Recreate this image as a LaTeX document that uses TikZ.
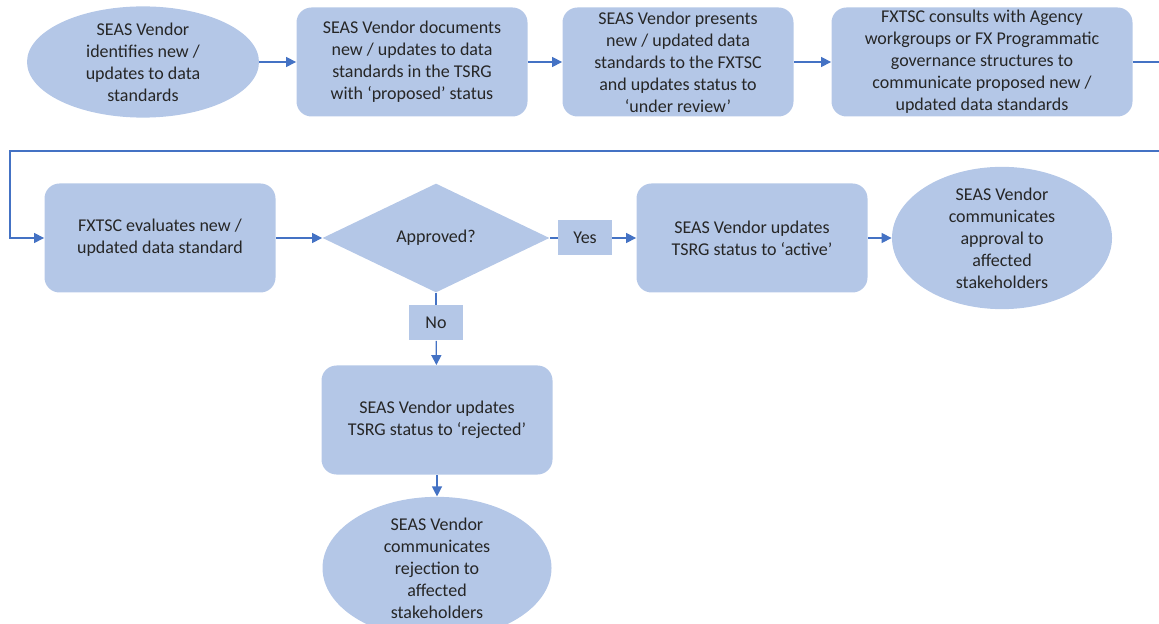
\documentclass[tikz,border=0pt]{standalone}
\usepackage{fontspec}
\setmainfont{Carlito}
\usepackage{xcolor}
\usetikzlibrary{positioning,arrows.meta,shapes.geometric}
\definecolor{stepfill}{HTML}{B4C7E7}
\definecolor{linkblue}{HTML}{4472C4}
\definecolor{txtgray}{HTML}{262626}

\begin{document}
\begin{tikzpicture}[
    x=0.5pt, y=-0.5pt,
    every node/.style={font=\fontsize{9}{11}\selectfont, text=txtgray, align=center},
    box/.style={fill=stepfill, rounded corners=7.5pt, minimum width=115.5pt,
                minimum height=54.5pt, inner sep=0pt},
    oval/.style={ellipse, fill=stepfill, minimum width=116pt,
                 minimum height=54.5pt, inner sep=0pt},
    decide/.style={diamond, fill=stepfill, minimum width=113.5pt,
                   minimum height=54.5pt, inner sep=0pt, aspect=2.1},
    tag/.style={fill=stepfill, minimum width=27pt, minimum height=17.5pt, inner sep=0pt},
    arr/.style={-{Triangle[length=5pt,width=5pt]}, linkblue, line width=0.6pt},
    link/.style={linkblue, line width=0.6pt}
]
  \useasboundingbox (0,0) rectangle (1159,624);
  \clip (0,0) rectangle (1159,624);

  % first row
  \node[oval] (identify) at (143,62) {SEAS Vendor\\identifies new /\\updates to data\\standards};
  \node[box] (document) at (412,62) {SEAS Vendor documents\\new / updates to data\\standards in the TSRG\\with ‘proposed’ status};
  \node[box] (present) at (678,62) {SEAS Vendor presents\\new / updated data\\standards to the FXTSC\\and updates status to\\‘under review’};
  \node[box, minimum width=150.5pt] (consult) at (982,62) {FXTSC consults with Agency\\workgroups or FX Programmatic\\governance structures to\\communicate proposed new /\\updated data standards};

  % second row
  \node[box] (evaluate) at (160,238) {FXTSC evaluates new /\\updated data standard};
  \node[decide] (approved) at (436,238) {Approved?};
  \node[tag] (yes) at (585,238) {Yes};
  \node[box] (active) at (752,238) {SEAS Vendor updates\\TSRG status to ‘active’};
  \node[oval, minimum width=110pt] (approval) at (1002,238) {SEAS Vendor\\communicates\\approval to\\affected\\stakeholders};

  % rejected branch
  \node[tag] (no) at (436,323) {No};
  \node[box] (rejected) at (437,420) {SEAS Vendor updates\\TSRG status to ‘rejected’};
  \node[oval, minimum width=114.5pt] (rejection) at (437,568) {SEAS Vendor\\communicates\\rejection to\\affected\\stakeholders};

  \draw[arr] (identify) -- (document);
  \draw[arr] (document) -- (present);
  \draw[arr] (present) -- (consult);
  \draw[arr] (consult.east) -- ++(60,0) |- (10,151) |- (evaluate.west);
  \draw[arr] (evaluate) -- (approved);
  \draw[link] (approved) -- (yes);
  \draw[arr] (yes) -- (active);
  \draw[arr] (active) -- (approval);
  \draw[link] (approved) -- (no);
  \draw[arr] (no) -- (rejected);
  \draw[arr] (rejected) -- (rejection);
\end{tikzpicture}
\end{document}
